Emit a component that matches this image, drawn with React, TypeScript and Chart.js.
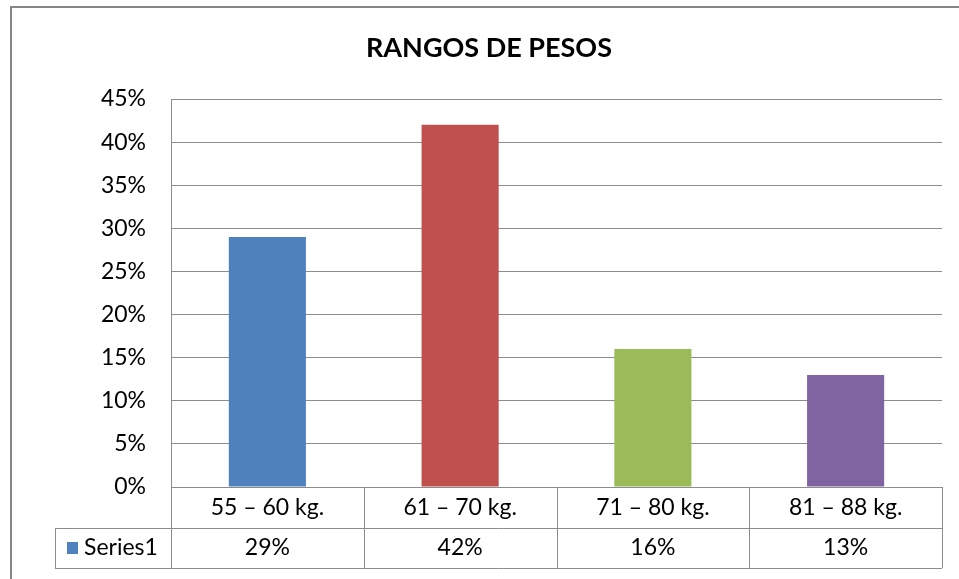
import React, { useEffect, useRef } from "react";
import { Chart, registerables } from "chart.js";

Chart.register(...registerables);

const title = "RANGOS DE PESOS";
const categories = ["55 – 60 kg.", "61 – 70 kg.", "71 – 80 kg.", "81 – 88 kg."];
const seriesName = "Series1";
const values = [29, 42, 16, 13];
const barColors = ["#4F81BD", "#C0504D", "#9BBB59", "#8064A2"];
const yTicks = [0, 5, 10, 15, 20, 25, 30, 35, 40, 45];

const FONT = "Lato, 'Open Sans', sans-serif";
const GRID = "#8c8c8c";

const tablePlugin = {
  id: "tablePlugin",
  afterDraw(chart: any) {
    const ctx = chart.ctx;
    const area = chart.chartArea;
    const x = chart.scales.x;
    ctx.save();
    // outer frame
    ctx.strokeStyle = "#868686";
    ctx.lineWidth = 2;
    ctx.strokeRect(11, 7, 958, 600);
    // title
    ctx.fillStyle = "#000";
    ctx.font = `bold 27px ${FONT}`;
    ctx.textAlign = "center";
    ctx.textBaseline = "middle";
    ctx.fillText(title, 489, 48);

    const row1Top = area.bottom;
    const row2Top = area.bottom + 41;
    const row2Bottom = area.bottom + 81;
    const legendLeft = 55;
    ctx.strokeStyle = GRID;
    ctx.lineWidth = 1;
    ctx.beginPath();
    ctx.moveTo(legendLeft, Math.round(row2Top) + 0.5);
    ctx.lineTo(area.right, Math.round(row2Top) + 0.5);
    ctx.moveTo(legendLeft, Math.round(row2Bottom) + 0.5);
    ctx.lineTo(area.right, Math.round(row2Bottom) + 0.5);
    ctx.moveTo(legendLeft + 0.5, row2Top);
    ctx.lineTo(legendLeft + 0.5, row2Bottom);
    const n = categories.length;
    const step = (area.right - area.left) / n;
    for (let i = 0; i <= n; i++) {
      const px = Math.round(area.left + i * step) + 0.5;
      ctx.moveTo(px, row1Top);
      ctx.lineTo(px, row2Bottom);
    }
    ctx.stroke();

    // legend key
    ctx.fillStyle = barColors[0];
    ctx.fillRect(67, row2Top + 14, 11, 12);
    ctx.fillStyle = "#000";
    ctx.font = `23px ${FONT}`;
    ctx.textAlign = "left";
    ctx.fillText(seriesName, 84, row2Top + 20);
    ctx.textAlign = "center";
    values.forEach((v, i) => {
      ctx.fillText(v + "%", x.getPixelForValue(i), row2Top + 20);
    });
    ctx.restore();
  },
};

export default function App() {
  const ref = useRef<HTMLCanvasElement>(null);
  useEffect(() => {
    document.body.style.margin = "0";
    const chart = new Chart(ref.current!, {
      type: "bar",
      data: {
        labels: categories,
        datasets: [
          {
            label: seriesName,
            data: values,
            backgroundColor: barColors,
            borderWidth: 0,
            categoryPercentage: 1,
            barPercentage: 0.4,
          },
        ],
      },
      options: {
        responsive: false,
        animation: false,
        layout: { padding: { top: 99, right: 17, left: 0, bottom: 0 } },
        plugins: { legend: { display: false }, tooltip: { enabled: false }, title: { display: false } },
        scales: {
          x: {
            grid: { display: false, drawTicks: false },
            border: { display: true, color: GRID, width: 1 },
            ticks: { color: "#000", font: { family: FONT, size: 23 }, padding: 7, maxRotation: 0 },
            afterFit(scale: any) {
              scale.height = 92;
            },
          },
          y: {
            min: 0,
            max: 45,
            afterBuildTicks(scale: any) {
              scale.ticks = yTicks.map((v) => ({ value: v }));
            },
            grid: { color: GRID, drawTicks: false },
            border: { display: true, color: GRID, width: 1 },
            ticks: {
              color: "#000",
              font: { family: FONT, size: 23 },
              padding: 25,
              callback: (v: any) => v + "%",
            },
            afterFit(scale: any) {
              scale.width = 171;
            },
          },
        },
      },
      plugins: [tablePlugin],
    });
    return () => chart.destroy();
  }, []);
  return <canvas ref={ref} width={959} height={579} style={{ display: "block" }} />;
}
